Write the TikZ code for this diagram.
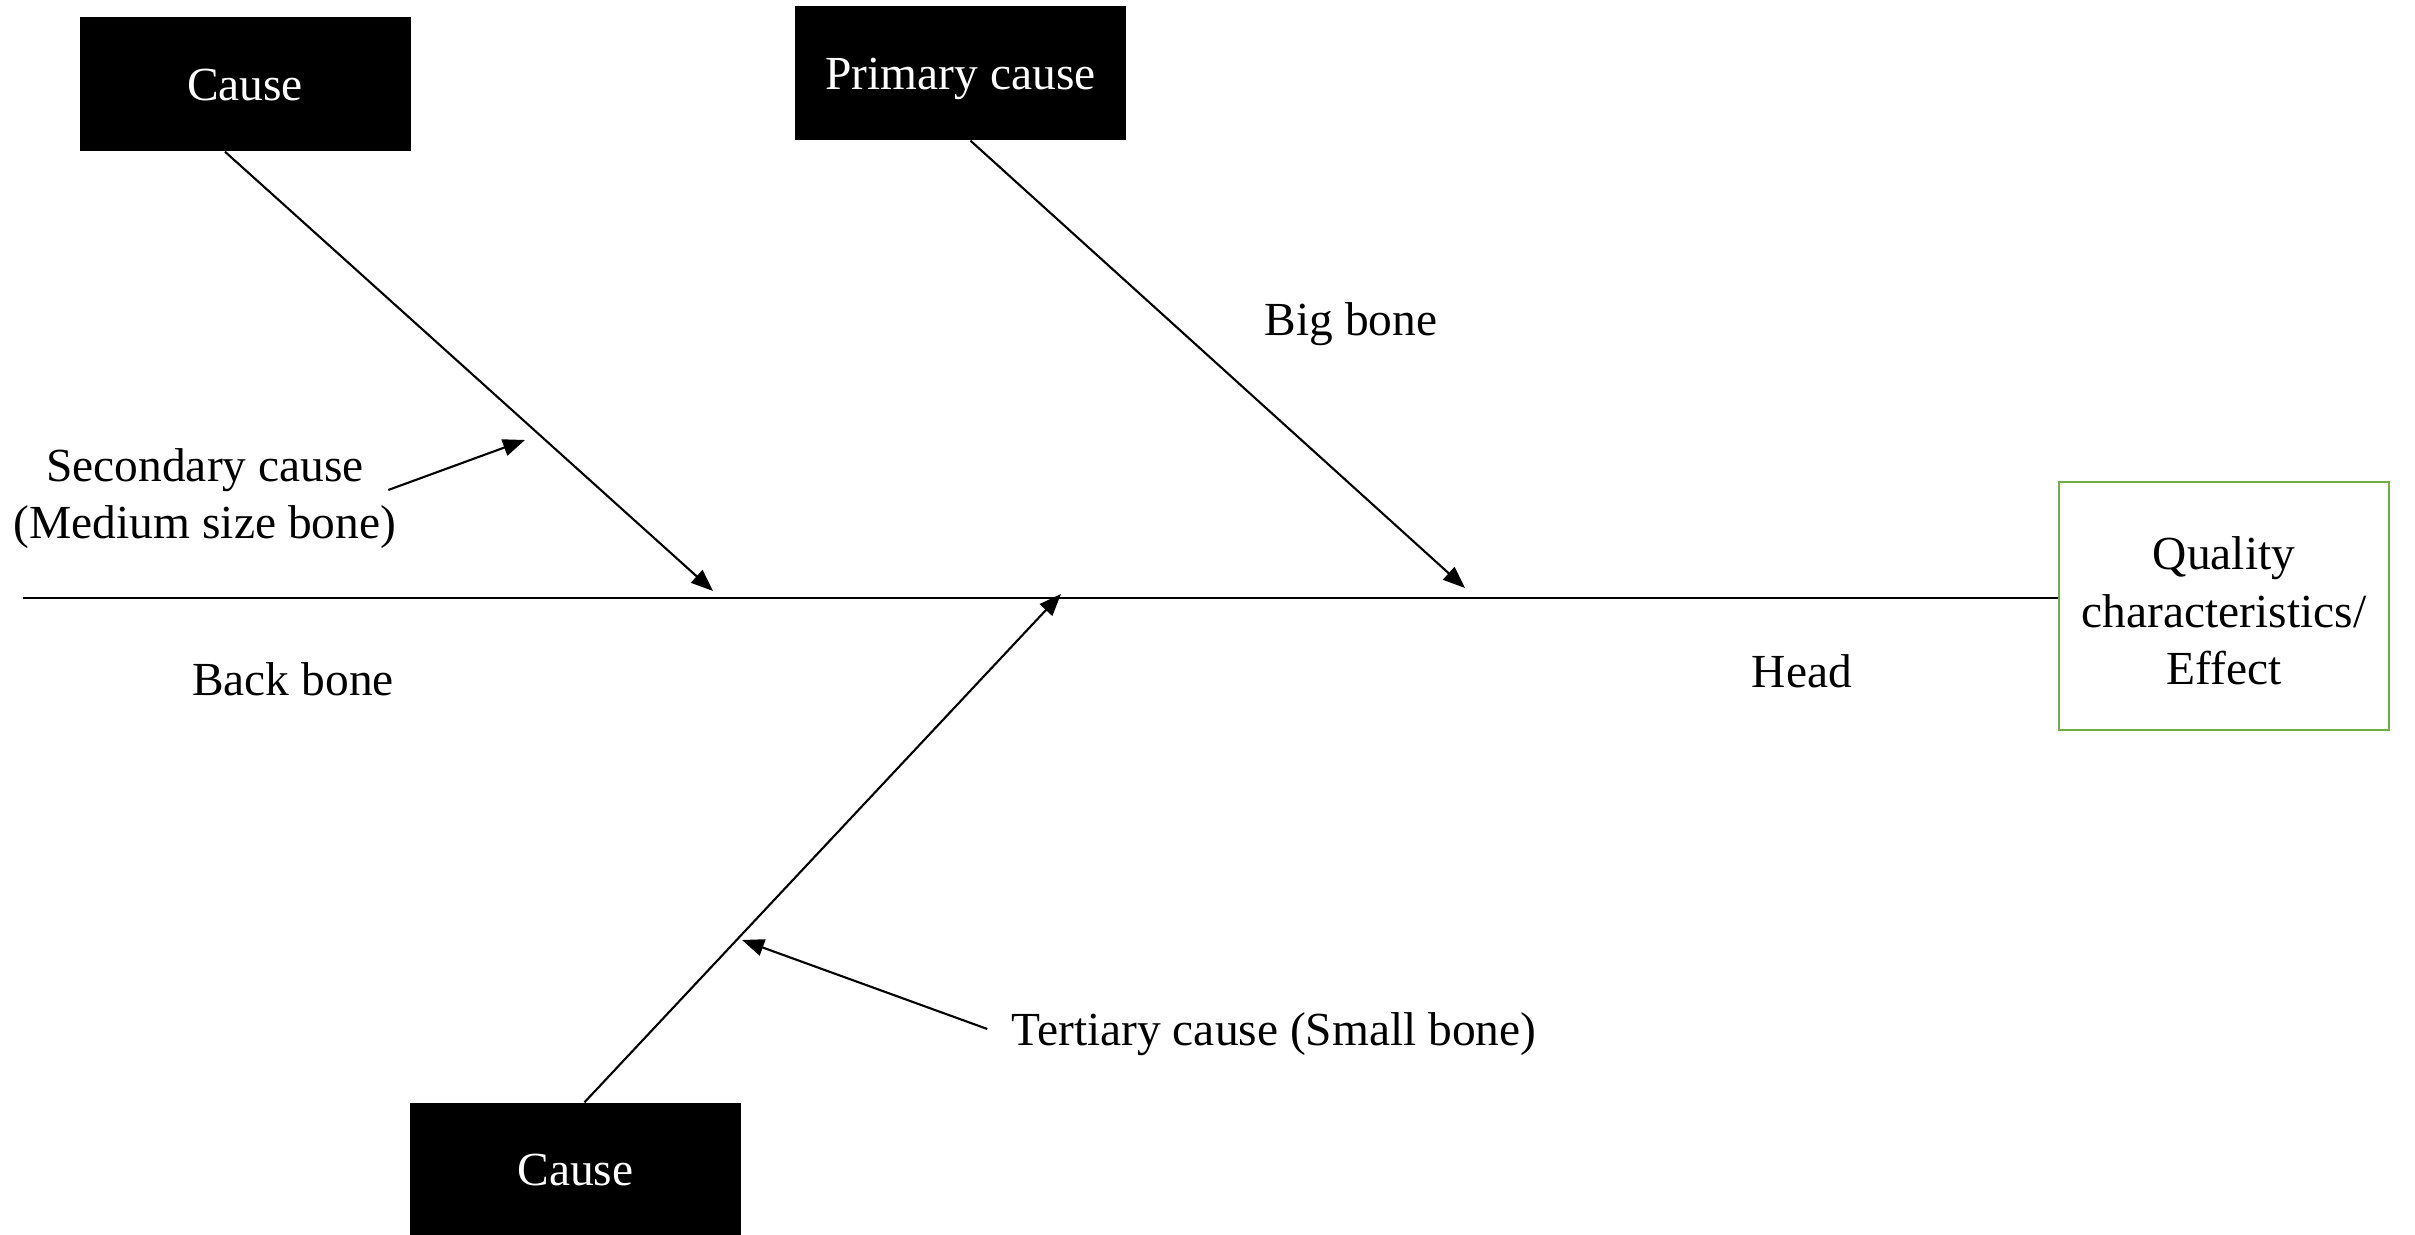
\documentclass[tikz,border=0pt]{standalone}
\usepackage{xcolor}
\usepackage{fontspec}
\setmainfont{Liberation Serif}
\usepackage{tikz}
\usetikzlibrary{arrows.meta, positioning, calc}
\definecolor{effectgreen}{RGB}{112, 173, 71}
\tikzstyle{causebox} = [
    rectangle,
    minimum width=3.31cm,
    minimum height=1.34cm,
    text centered,
    text height=0.96em,
    text depth=0pt,
    fill=black,
    text=white,
    font=\fontsize{13.5}{16.2}\selectfont
]
\tikzstyle{effectbox} = [
    rectangle,
    minimum width=3.3cm,
    minimum height=2.48cm,
    align=center,
    draw=effectgreen,
    line width=0.8pt,
    font=\fontsize{13.5}{16.4}\selectfont
]
\tikzstyle{label} = [
    inner sep=1pt,
    align=center,
    font=\fontsize{13.5}{16.2}\selectfont
]
\tikzstyle{bone} = [
    line width=0.6pt,
    -{Triangle[length=0.22cm, width=0.17cm]}
]
\tikzstyle{pointer} = [
    line width=0.6pt,
    -{Triangle[length=0.22cm, width=0.17cm]}
]

\begin{document}
\begin{tikzpicture}
        \useasboundingbox (0,0) rectangle (24.15,12.35);

        % boxes
        \node[causebox] (causeA) at (2.45,11.51) {Cause};
        \node[causebox] (primary) at (9.605,11.62) {Primary cause};
        \node[causebox, minimum height=1.32cm] (causeB) at (5.755,0.66) {Cause};
        \node[effectbox] (effect) at (22.24,6.29) {};
        \node[label, font=\fontsize{13.5}{16.4}\selectfont] (effecttext) at ([yshift=-0.05cm]effect.center) {Quality\\characteristics/\\Effect};

        % backbone
        \coordinate (tail) at (0.23,6.37);
        \draw[line width=0.35pt] (tail) -- (tail -| effect.west);

        % points where the bones meet the backbone
        \coordinate (tipA) at (7.13,6.44);
        \coordinate (tipP) at (14.65,6.47);
        \coordinate (tipB) at (10.61,6.41);

        \draw[bone] ([xshift=-0.2cm]causeA.south) -- (tipA);
        \draw[bone] ([xshift=0.1cm]primary.south) -- (tipP);
        \draw[bone] ([xshift=0.09cm]causeB.north) -- (tipB);

        % labels
        \node[label] (secondary) at (2.05,7.36) {Secondary cause\\(Medium size bone)};
        \node[label] (bigbone) at (13.51,9.11) {Big bone};
        \node[label] (backbone) at (2.93,5.56) {Back bone};
        \node[label] (head) at (18.02,5.64) {Head};
        \node[label] (tertiary) at (12.74,2.01) {Tertiary cause (Small bone)};

        \coordinate (secondarytip) at (5.25,7.95);
        \coordinate (tertiarytip) at (7.42,2.95);
        \draw[pointer] ([xshift=-0.12cm,yshift=0.09cm]secondary.east) -- (secondarytip);
        \draw[pointer] ([xshift=-0.2cm,yshift=0.05cm]tertiary.west) -- (tertiarytip);
    \end{tikzpicture}
\end{document}
